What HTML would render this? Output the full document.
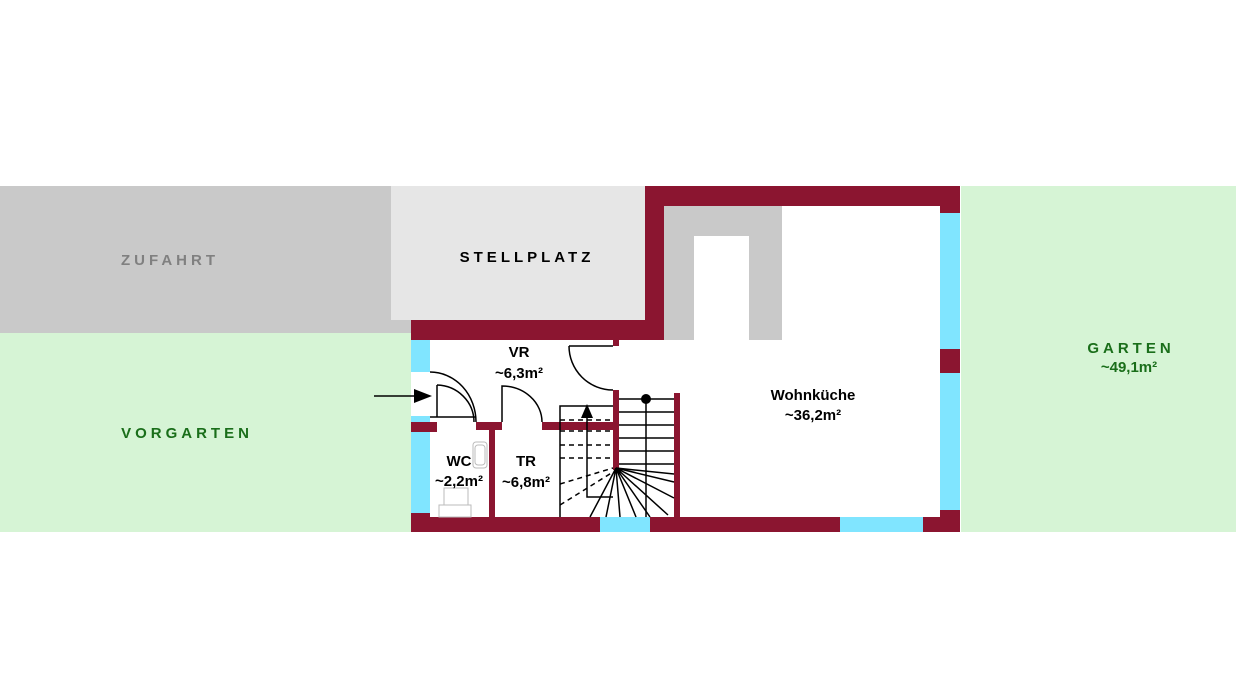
<!DOCTYPE html>
<html><head><meta charset="utf-8"><style>
html,body{margin:0;padding:0;background:#fff;}
svg{display:block;font-family:"Liberation Sans",sans-serif;}
</style></head><body>
<svg width="1236" height="700" viewBox="0 0 1236 700" xmlns="http://www.w3.org/2000/svg">
<rect x="0" y="186" width="411" height="147" fill="#c9c9c9"/>
<rect x="391" y="186" width="254" height="134" fill="#e6e6e6"/>
<rect x="0" y="333" width="411" height="199" fill="#d6f4d5"/>
<rect x="961" y="186" width="275" height="346" fill="#d6f4d5"/>
<rect x="411" y="340" width="529" height="177" fill="#fff"/>
<rect x="664" y="206" width="276" height="134" fill="#fff"/>
<rect x="664" y="206" width="118" height="134" fill="#c9c9c9"/>
<rect x="694" y="236" width="55" height="104" fill="#fff"/>
<g fill="#8b1530">
<rect x="645" y="186" width="315" height="20"/>
<rect x="645" y="186" width="19" height="154"/>
<rect x="411" y="320" width="253" height="20"/>
<rect x="940" y="186" width="20" height="346"/>
<rect x="411" y="517" width="549" height="15"/>
<rect x="411" y="340" width="19" height="192"/>
<rect x="411" y="422" width="26" height="10"/>
<rect x="476" y="422" width="26" height="8"/>
<rect x="542" y="422" width="75" height="8"/>
<rect x="489" y="422" width="6" height="95"/>
<rect x="613" y="340" width="6" height="6"/>
<rect x="613" y="390" width="6" height="80"/>
<rect x="674" y="393" width="6" height="124"/>
</g>
<g fill="#80e5ff">
<rect x="940" y="213" width="20" height="136"/>
<rect x="940" y="373" width="20" height="137"/>
<rect x="600" y="517" width="50" height="15"/>
<rect x="840" y="517" width="83" height="15"/>
<rect x="411" y="340" width="19" height="32"/>
<rect x="411" y="416" width="19" height="6"/>
<rect x="411" y="432" width="19" height="81"/>
</g>
<rect x="411" y="372" width="19" height="44" fill="#fff"/>
<g stroke="#000" stroke-width="1.5" fill="none">
<path d="M430,372 A46,50 0 0 1 476,422"/>
<path d="M437,385 A38,37 0 0 1 474,422"/>
<path d="M437,417 V385"/>
<path d="M430,417 H476"/>
<path d="M502,422 V386 A40,36 0 0 1 542,422"/>
<path d="M569,346 H613 M569,346 A44,44 0 0 0 613,390"/>
<path d="M619,399 H674 M619,412 H674 M619,425 H674 M619,438 H674 M619,451 H674 M619,464 H674"/>
<path d="M646,399 V517"/>
<path d="M616,468 L590,517 M616,468 L606,517 M616,468 L620,517 M616,468 L636,517 M616,468 L650,517 M616,468 L668,515 M616,468 L674,498 M616,468 L674,482 M616,468 L674,474"/>
<path d="M560,517 V406 H613 M587,406 V497 H613"/>
<path d="M560,420 H613 M560,431 H613 M560,445 H613 M560,458 H613 M560,484 L613,468 M560,505 L613,472" stroke-dasharray="5,4"/>
<path d="M374,396 H415"/>
</g>
<polygon points="432,396 414,389 414,403" fill="#000"/>
<polygon points="587,404 581,418 593,418" fill="#000"/>
<circle cx="646" cy="399" r="5" fill="#000"/>
<g stroke="#bbb" stroke-width="1" fill="#fff">
<rect x="473" y="442" width="14" height="26" rx="3"/>
<rect x="475" y="445" width="10" height="20" rx="3"/>
<rect x="444" y="488" width="24" height="18"/>
<rect x="439" y="505" width="32" height="12"/>
</g>
<g font-weight="bold" font-size="15" text-anchor="middle">
<text x="170" y="265" fill="#808080" letter-spacing="4">ZUFAHRT</text>
<text x="527" y="262" fill="#000" letter-spacing="4">STELLPLATZ</text>
<text x="187" y="438" fill="#1a6e1a" letter-spacing="4">VORGARTEN</text>
<text x="1131" y="353" fill="#1a6e1a" letter-spacing="4">GARTEN</text>
<text x="1129" y="372" fill="#1a6e1a">~49,1m²</text>
<text x="519" y="357" fill="#000">VR</text>
<text x="519" y="378" fill="#000">~6,3m²</text>
<text x="459" y="466" fill="#000">WC</text>
<text x="459" y="486" fill="#000">~2,2m²</text>
<text x="526" y="466" fill="#000">TR</text>
<text x="526" y="487" fill="#000">~6,8m²</text>
<text x="813" y="400" fill="#000">Wohnküche</text>
<text x="813" y="420" fill="#000">~36,2m²</text>
</g>
</svg>
</body></html>
